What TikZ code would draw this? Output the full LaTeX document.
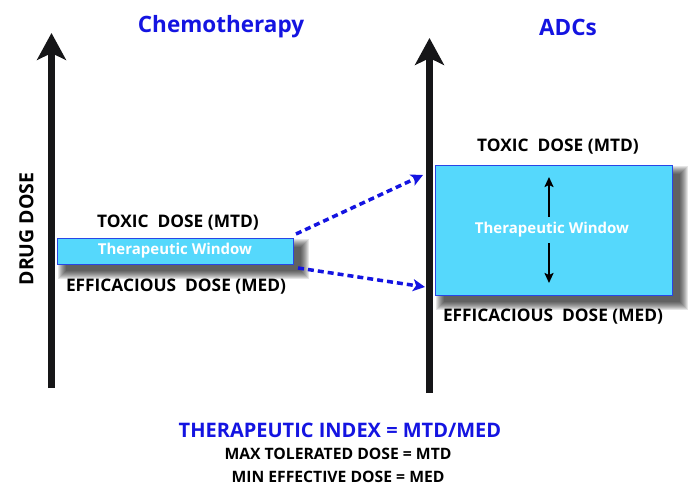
\documentclass[tikz,border=0pt]{standalone}
\usepackage{fontspec}
\setmainfont{Open Sans}
\usetikzlibrary{arrows.meta}
\definecolor{titleblue}{RGB}{20,20,225}
\definecolor{wincyan}{RGB}{85,216,252}
\definecolor{winedge}{RGB}{40,70,230}
\definecolor{axisblack}{RGB}{22,22,24}
\tikzset{
  axisline/.style={draw=axisblack, line width=6.5pt, -{Stealth[length=27pt,width=29pt,inset=7pt]}},
  title/.style={font=\fontsize{22.5}{26}\selectfont\bfseries, text=titleblue},
  doselabel/.style={font=\fontsize{17.3}{20}\selectfont\bfseries, text=black},
  wintext/.style={font=\fontsize{15}{18}\selectfont\bfseries, text=white},
  windowbox/.style={draw=winedge, line width=1pt, fill=wincyan},
  dasharrow/.style={draw=titleblue, line width=3.5pt, dash pattern=on 6pt off 4pt, -{Stealth[length=12pt,width=12pt,inset=3pt]}},
  smallarrow/.style={draw=black, line width=2pt, -{Stealth[length=10pt,width=9pt,inset=2pt]}},
  note/.style={font=\fontsize{15.7}{18}\selectfont\bfseries, text=black},
}
\newcommand{\blurshadow}[4]{%
  \foreach \i in {0,...,8}{
    \fill[black, opacity=0.1] (#1+1+\i, #2+1+\i) rectangle (#3+16-\i, #4+15-\i);
  }%
}
\begin{document}
\begin{tikzpicture}[x=1pt,y=-1pt]
\useasboundingbox (0,0) rectangle (700,500);

% axes
\coordinate (la0) at (51.5,388);
\coordinate (la1) at (51.5,33);
\coordinate (ra0) at (429.5,393);
\coordinate (ra1) at (429.5,38);
\draw[axisline] (la0) -- (la1);
\draw[axisline] (ra0) -- (ra1);

% titles
\node[title] (tchemo) at (221,27) {Chemotherapy};
\node[title] (tadc) at (568,27) {ADCs};
\node[font=\fontsize{19.5}{22}\selectfont\bfseries, rotate=90] (ylab) at (26.5,229) {DRUG DOSE};

% left window
\blurshadow{57}{238}{293}{264}
\draw[windowbox] (57,238) rectangle (293,264);
\node[wintext] (lwin) at (175,251) {Therapeutic Window};
\coordinate (lwinTR) at (296,234);
\coordinate (lwinBR) at (298,268);
\node[doselabel] (ltox) at (178,223) {TOXIC\ \ DOSE (MTD)};
\node[doselabel] (leff) at (176,287) {EFFICACIOUS\ \ DOSE (MED)};

% right window
\blurshadow{435}{165}{672}{295}
\draw[windowbox] (435,165) rectangle (672,295);
\node[wintext] (rwin) at (552,230) {Therapeutic Window};
\node[doselabel] (rtox) at (558,147) {TOXIC\ \ DOSE (MTD)};
\node[doselabel] (reff) at (553,317) {EFFICACIOUS\ \ DOSE (MED)};
\coordinate (rup0) at (549,217);
\coordinate (rup1) at (549,177);
\coordinate (rdn0) at (549,243);
\coordinate (rdn1) at (549,283);
\draw[smallarrow] (rup0) -- (rup1);
\draw[smallarrow] (rdn0) -- (rdn1);

% dashed arrows
\coordinate (tgtTop) at (423,175);
\coordinate (tgtBot) at (425,287);
\draw[dasharrow] (lwinTR) -- (tgtTop);
\draw[dasharrow] (lwinBR) -- (tgtBot);

% bottom text
\node[title, font=\fontsize{20}{24}\selectfont\bfseries] (tindex) at (340,430) {THERAPEUTIC INDEX = MTD/MED};
\node[note] (nmtd) at (338,454) {MAX TOLERATED DOSE = MTD};
\node[note] (nmed) at (338,477) {MIN EFFECTIVE DOSE = MED};
\end{tikzpicture}
\end{document}
